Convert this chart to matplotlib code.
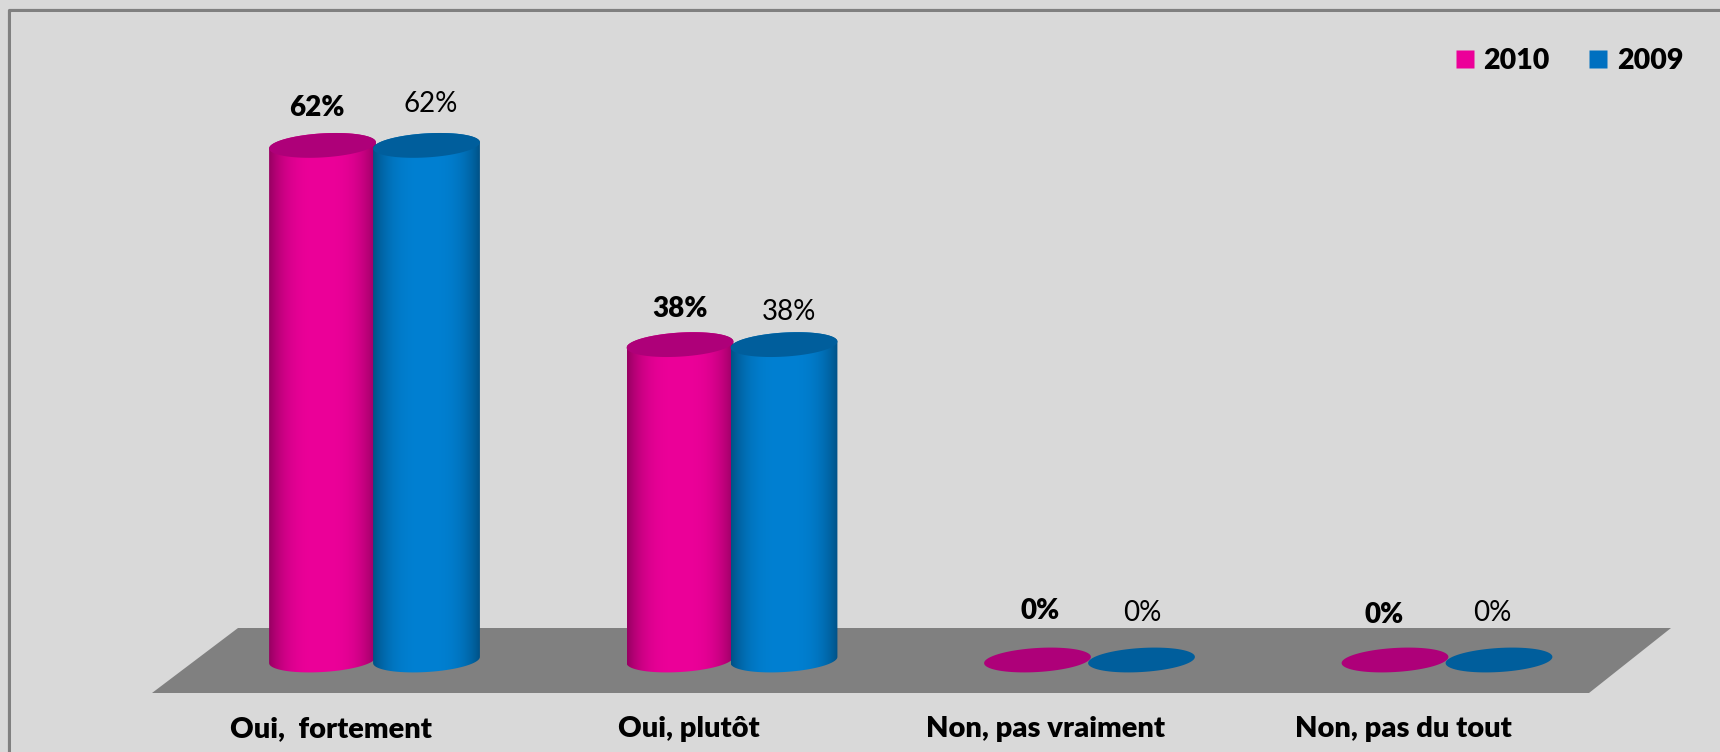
"""Cylinder chart, 2010 vs 2009, drawn on one full-figure axes."""
import matplotlib

matplotlib.use("Agg")
import matplotlib.pyplot as plt
import numpy as np
from matplotlib.colors import to_rgb
from matplotlib.lines import Line2D
from matplotlib.patches import PathPatch, Polygon, Rectangle
from matplotlib.path import Path

categories = ["Oui,  fortement", "Oui, plutôt", "Non, pas vraiment", "Non, pas du tout"]
values_2010 = [62, 38, 0, 0]
values_2009 = [62, 38, 0, 0]
labels_2010 = ["62%", "38%", "0%", "0%"]
labels_2009 = ["62%", "38%", "0%", "0%"]

W, H = 1720, 752
# axis scale, in pixels
GROUP_X0, GROUP_DX = 375.0, 357.5
ZERO_Y, PX_PER_PCT = 660.0, 8.3
BAR_W = 107.0
ELL_H = 24.0
TILT = np.deg2rad(-3.5)

PINK, PINK_TOP = "#EC0099", "#AE0079"
BLUE, BLUE_TOP = "#0080D2", "#005E9C"

plt.rcParams["font.family"] = ["Lato", "DejaVu Sans"]

fig = plt.figure(figsize=(W / 100, H / 100), dpi=100, facecolor="white")
ax = fig.add_axes([0, 0, 1, 1])
ax.set_xlim((0 - GROUP_X0) / GROUP_DX, (W - GROUP_X0) / GROUP_DX)
ax.set_ylim((ZERO_Y - H) / PX_PER_PCT, ZERO_Y / PX_PER_PCT)
ax.set_autoscale_on(False)
ax.axis("off")


def dx(px):
    return px / GROUP_DX


def dy(px):
    return -px / PX_PER_PCT


def ellipse_xy(cx, val, t):
    """Tilted ellipse points around data point (cx, val), pixel-sized radii."""
    ex = BAR_W / 2 * np.cos(t)
    ey = ELL_H / 2 * np.sin(t)
    px = ex * np.cos(TILT) - ey * np.sin(TILT)
    py = ex * np.sin(TILT) + ey * np.cos(TILT)
    return cx + dx(px), val + dy(py)


def cylinder(cx, val, base, top):
    if val > 0:
        # lower half of the base ellipse, then upper half of the top one
        bx, by = ellipse_xy(cx, 0, np.linspace(0, np.pi, 40))
        tx, ty = ellipse_xy(cx, val, np.linspace(np.pi, 2 * np.pi, 40))
        outline = np.column_stack([np.r_[bx, tx], np.r_[by, ty]])
        s = np.linspace(-1, 1, 200)
        shade = 1 - 0.36 * np.abs(s) ** 3
        img = np.array(to_rgb(base))[None, None, :] * shade[None, :, None]
        left, right = cx - dx(BAR_W / 2), cx + dx(BAR_W / 2)
        im = ax.imshow(img, extent=[left, right, dy(ELL_H), val + dy(-ELL_H)],
                       aspect="auto", zorder=3, interpolation="bilinear")
        im.set_clip_path(PathPatch(Path(outline, closed=False), transform=ax.transData))
    ex, ey = ellipse_xy(cx, val, np.linspace(0, 2 * np.pi, 80))
    ax.add_patch(Polygon(np.column_stack([ex, ey]), closed=True, fc=top, ec="none", zorder=4))


# panel
xmin, xmax = ax.get_xlim()
ymin, ymax = ax.get_ylim()
ax.add_patch(Rectangle((0, 0), 1, 1, transform=ax.transAxes, fc="#D9D9D9", ec="none", zorder=0))
ax.add_line(Line2D([xmin + dx(11), xmin + dx(11), xmax], [ymin, ymax + dy(12), ymax + dy(12)],
                   color="#E4E4E4", lw=1.2, zorder=1))
ax.add_line(Line2D([xmin + dx(8.5), xmin + dx(8.5), xmax], [ymin, ymax + dy(9.5), ymax + dy(9.5)],
                   color="#808080", lw=2.3, zorder=1))

# floor
floor_px = [(238, 628), (1671, 628), (1589, 693), (152, 693)]
ax.add_patch(Polygon([((x - GROUP_X0) / GROUP_DX, (ZERO_Y - y) / PX_PER_PCT) for x, y in floor_px],
                     closed=True, fc="#808080", ec="none", zorder=1))

nudge_2010 = [(-58, -37), (-52, -36), (-50, -49), (-63, -45)]
nudge_2009 = [(56, -41), (57, -33), (52, -47), (45, -47)]
for i, name in enumerate(categories):
    cylinder(i - dx(BAR_W / 2 - 1), values_2010[i], PINK, PINK_TOP)
    cylinder(i + dx(BAR_W / 2 - 2), values_2009[i], BLUE, BLUE_TOP)
    ax.text(i + dx(nudge_2010[i][0]), values_2010[i] + dy(nudge_2010[i][1]), labels_2010[i],
            ha="center", va="center", fontsize=20, fontweight="heavy", color="black", zorder=5)
    ax.text(i + dx(nudge_2009[i][0]), values_2009[i] + dy(nudge_2009[i][1]), labels_2009[i],
            ha="center", va="center", fontsize=20, color="black", zorder=5)
    ax.text(i + dx(-44), dy(729 - ZERO_Y), name, ha="center", va="center",
            fontsize=21, fontweight="heavy", color="black", zorder=5)

handles = [Line2D([], [], ls="", marker="s", ms=12.8, mfc=PINK, mec="none"),
           Line2D([], [], ls="", marker="s", ms=12.8, mfc="#0070C0", mec="none")]
ax.legend(handles, ["2010", "2009"], ncol=2, frameon=False, loc="upper right",
          bbox_to_anchor=(1683 / W, 1 - 48 / H), borderaxespad=0, borderpad=0,
          handlelength=1.0, handletextpad=0.15, columnspacing=1.2,
          prop={"size": 20.5, "weight": "heavy"})

fig.savefig("out.png", dpi=100, facecolor=fig.get_facecolor())
